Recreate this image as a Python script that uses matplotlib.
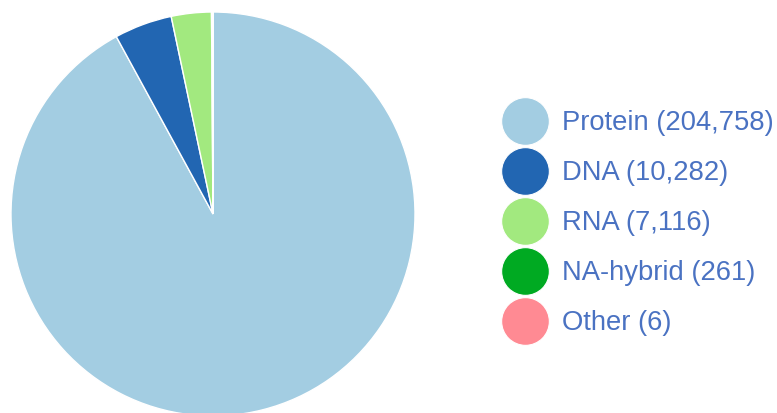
import matplotlib.pyplot as plt

labels = ["Protein", "DNA", "RNA", "NA-hybrid", "Other"]
counts = [204758, 10282, 7116, 261, 6]
colors = ["#a3cde2", "#2266b2", "#a2e97f", "#00aa22", "#ff8a93"]

plt.rcParams['font.family'] = ['Liberation Sans', 'DejaVu Sans']

fig = plt.figure(figsize=(7.77, 4.14), dpi=100)
ax = fig.add_axes([0, 0, 1, 1])
ax.set_xlim(0, 777)
ax.set_ylim(0, 414)
ax.set_aspect('equal')
ax.axis('off')

# pie in pixel coordinates, starts at top and runs clockwise
ax.pie(counts, colors=colors, startangle=90, counterclock=False,
       center=(213, 199), radius=202,
       wedgeprops=dict(edgecolor='white', linewidth=1))
ax.set_xlim(0, 777)
ax.set_ylim(0, 414)

# legend
for i, (lab, n, c) in enumerate(zip(labels, counts, colors)):
    y = 414 - (122 + i * 50)
    ax.scatter([525], [y], s=1180, color=c, edgecolors='white', linewidths=0.8, zorder=3)
    ax.text(562, y - 1.5, f"{lab} ({n:,})", fontsize=19.7, color="#4a72c2",
            va='center', ha='left')

plt.savefig("out.png", dpi=100)
